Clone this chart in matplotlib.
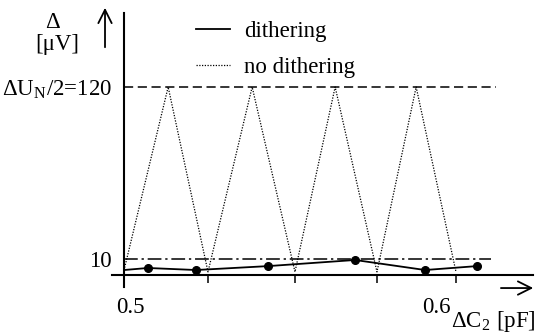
import matplotlib.pyplot as plt

plt.rcParams["font.family"] = "Liberation Serif"
plt.rcParams["mathtext.fontset"] = "stix"

# no dithering: triangular error vs. capacitance step
x_nodither = [0.5, 0.5133, 0.5253, 0.5386, 0.5515, 0.5636, 0.5762, 0.5880, 0.6]
y_nodither = [3, 120, 2, 120, 2, 120, 2, 120, 2]

# dithering: measured points (first point has no marker)
x_dither = [0.5, 0.5072, 0.5217, 0.5434, 0.5696, 0.5907, 0.6063]
y_dither = [3.2, 4.5, 3.2, 5.7, 9.6, 3.2, 5.7]

half_lsb = 120
limit = 10
valley_ticks = [0.5253, 0.5515, 0.5762, 0.6]

fs = 16.5

fig = plt.figure(figsize=(5.36, 3.36), dpi=100)
ax = fig.add_axes([0, 0, 1, 1])
ax.set_xlim(0.46265, 0.62410)
ax.set_ylim(-38.9, 175.5)

# reference lines
ax.hlines(half_lsb, 0.5, 0.6120, colors="black", lw=1.1,
          linestyles=(0, (6, 3)))
ax.hlines(limit, 0.5, 0.6105, colors="black", lw=1.1,
          linestyles=(0, (9, 2.5, 1.5, 2.5)))

ax.plot(x_nodither, y_nodither, color="black", lw=0.9,
        linestyle=(0, (1, 1.2)), label="no dithering")
ax.plot(x_dither, y_dither, color="black", lw=1.3, label="dithering")
ax.plot(x_dither[1:], y_dither[1:], "o", color="black", ms=5.5)

# axes as crossing lines
for side in ["top", "right"]:
    ax.spines[side].set_visible(False)
ax.spines["left"].set_position(("data", 0.5))
ax.spines["bottom"].set_position(("data", 0))
ax.spines["left"].set_bounds(-7.66, 167.2)
ax.spines["bottom"].set_bounds(0.4964, 0.6232)
ax.spines["left"].set_linewidth(1.5)
ax.spines["bottom"].set_linewidth(1.5)

ax.set_xticks(valley_ticks)
ax.tick_params(axis="x", direction="out", length=5.8, width=1.1,
               labelbottom=False)
ax.set_yticks([limit, half_lsb])
ax.set_yticklabels(["10", r"ΔU$_\mathregular{N}$/2=120"], fontsize=fs)
ax.tick_params(axis="y", length=0, pad=8.6)

ax.text(0.5018, -21, "0.5", fontsize=fs, ha="center", va="center")
ax.text(0.594, -21, "0.6", fontsize=fs, ha="center", va="center")
ax.text(0.6241, -29.5, r"ΔC$_\mathregular{2}$ [pF]", fontsize=fs,
        ha="right", va="center")
ax.text(0.4786, 161, "Δ", fontsize=fs, ha="center", va="center")
ax.text(0.4798, 147, "[μV]", fontsize=fs, ha="center", va="center")

# axis arrows
ax.annotate("", xy=(0.49428, 172.3), xytext=(0.49428, 143.6),
            arrowprops=dict(arrowstyle="->", lw=1.3, mutation_scale=24),
            annotation_clip=False)
ax.annotate("", xy=(0.6241, -8.3), xytext=(0.6127, -8.3),
            arrowprops=dict(arrowstyle="->", lw=1.3, mutation_scale=24),
            annotation_clip=False)

handles, labels = ax.get_legend_handles_labels()
ax.legend(handles[::-1], labels[::-1], loc="upper left",
          bbox_to_anchor=(196 / 536, 1 - 21 / 336), frameon=False,
          fontsize=fs, borderpad=0, borderaxespad=0, handlelength=1.5,
          handletextpad=0.6, labelspacing=0.65)

fig.savefig("out.png", dpi=100)
